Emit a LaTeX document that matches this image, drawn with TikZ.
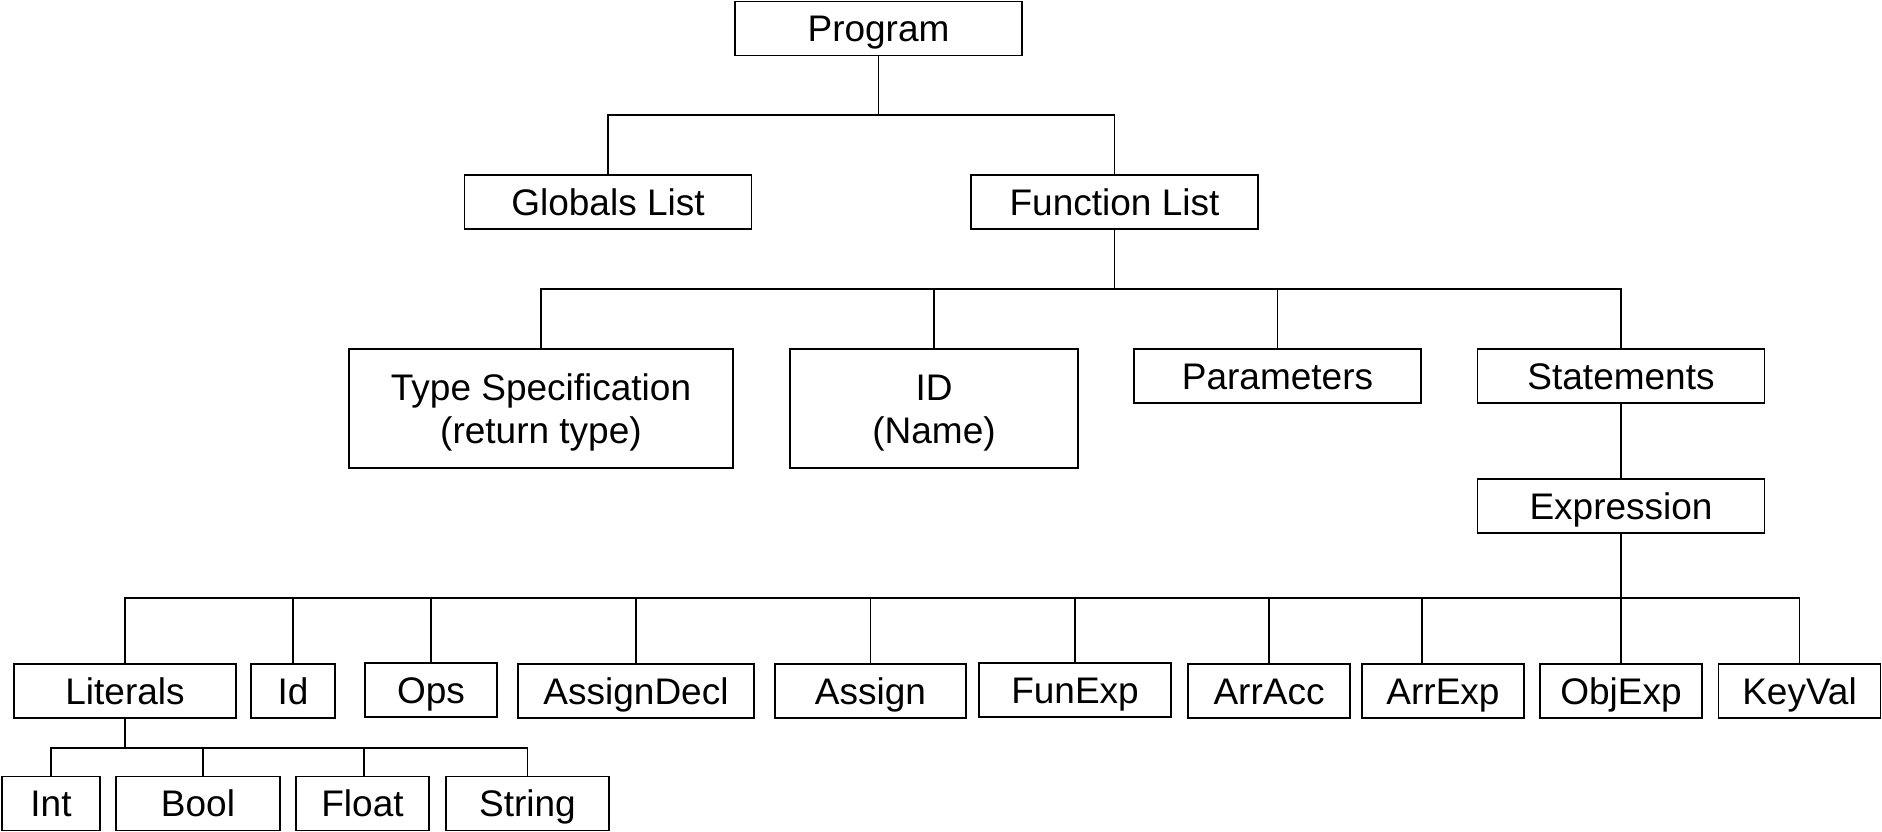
\documentclass[tikz,border=0pt]{standalone}
\usepackage{fontspec}
\setmainfont{Liberation Sans}
\usepackage{tikz}
\tikzset{
  blk/.style={draw, rectangle, line width=1.8pt, inner sep=0pt, minimum height=54pt,
    text height=30pt, text depth=3.5pt,
    align=center, font=\fontsize{37}{43}\selectfont},
  twoline/.style={text height=73pt, minimum height=119pt},
  link/.style={line width=1.4pt}
}

\begin{document}
\begin{tikzpicture}[x=1pt, y=-1pt]
			\useasboundingbox (0,0) rectangle (1882,832);
			\def \ra {202}
			\def \rb {376}
			\def \rc {691}
			\def \rd {803.5}
			% top levels
			\node[blk, minimum width=287pt] at (878.5, 28.5) (prog) {Program};
			\node[blk, minimum width=287pt] at (608, \ra) (glob) {Globals List};
			\node[blk, minimum width=287pt] at (1114.5, \ra) (func) {Function List};
			\coordinate (b1) at (878.5, 115);
			\draw[link] (prog.south) -- (b1);
			\draw[link] (b1) -| (glob.north);
			\draw[link] (b1) -| (func.north);
			% function parts
			\node[blk, twoline, minimum width=384pt] at (541, 408.5) (tspec) {Type Specification\\(return type)};
			\node[blk, twoline, minimum width=288pt] at (934, 408.5) (idn) {ID\\(Name)};
			\node[blk, minimum width=287pt] at (1277.5, \rb) (param) {Parameters};
			\node[blk, minimum width=287pt] at (1621, \rb) (stmt) {Statements};
			\node[blk, minimum width=287pt] at (1621, 506) (expr) {Expression};
			\coordinate (b2) at (1114.5, 289);
			\draw[link] (func.south) -- (b2);
			\draw[link] (b2) -| (tspec.north);
			\draw[link] (b2) -| (idn.north);
			\draw[link] (b2) -| (param.north);
			\draw[link] (b2) -| (stmt.north);
			\draw[link] (stmt.south) -- (expr.north);
			% expression kinds
			\node[blk, minimum width=222pt] at (125, \rc) (lit) {Literals};
			\node[blk, minimum width=84pt] at (293, \rc) (idl) {Id};
			\node[blk, minimum width=132pt] at (431, 690) (ops) {Ops};
			\node[blk, minimum width=236pt] at (636, \rc) (adecl) {AssignDecl};
			\node[blk, minimum width=191pt] at (870.5, \rc) (asgn) {Assign};
			\node[blk, minimum width=192pt] at (1075, 690) (funexp) {FunExp};
			\node[blk, minimum width=162pt] at (1269, \rc) (arracc) {ArrAcc};
			\node[blk, minimum width=162pt] at (1443, \rc) (arrexp) {ArrExp};
			\node[blk, minimum width=162pt] at (1621, \rc) (objexp) {ObjExp};
			\node[blk, minimum width=162pt] at (1799.5, \rc) (keyval) {KeyVal};
			\coordinate (b3) at (1621, 598);
			\draw[link] (expr.south) -- (b3);
			\draw[link] (b3) -| (lit.north);
			\draw[link] (b3) -| (idl.north);
			\draw[link] (b3) -| (ops.north);
			\draw[link] (b3) -| (adecl.north);
			\draw[link] (b3) -| (asgn.north);
			\draw[link] (b3) -| (funexp.north);
			\draw[link] (b3) -| (arracc.north);
			\draw[link] (b3) -| ([xshift=-21pt]arrexp.north);
			\draw[link] (b3) -| (objexp.north);
			\draw[link] (b3) -| (keyval.north);
			% literal kinds
			\node[blk, minimum width=98pt] at (51, \rd) (int) {Int};
			\node[blk, minimum width=164pt] at (198, \rd) (bool) {Bool};
			\node[blk, minimum width=133pt] at (362.5, \rd) (flt) {Float};
			\node[blk, minimum width=163pt] at (527.5, \rd) (str) {String};
			\coordinate (b4) at (125, 748);
			\draw[link] (lit.south) -- (b4);
			\draw[link] (b4) -| (int.north);
			\draw[link] (b4) -| ([xshift=5pt]bool.north);
			\draw[link] (b4) -| ([xshift=1.5pt]flt.north);
			\draw[link] (b4) -| (str.north);
		\end{tikzpicture}
\end{document}
